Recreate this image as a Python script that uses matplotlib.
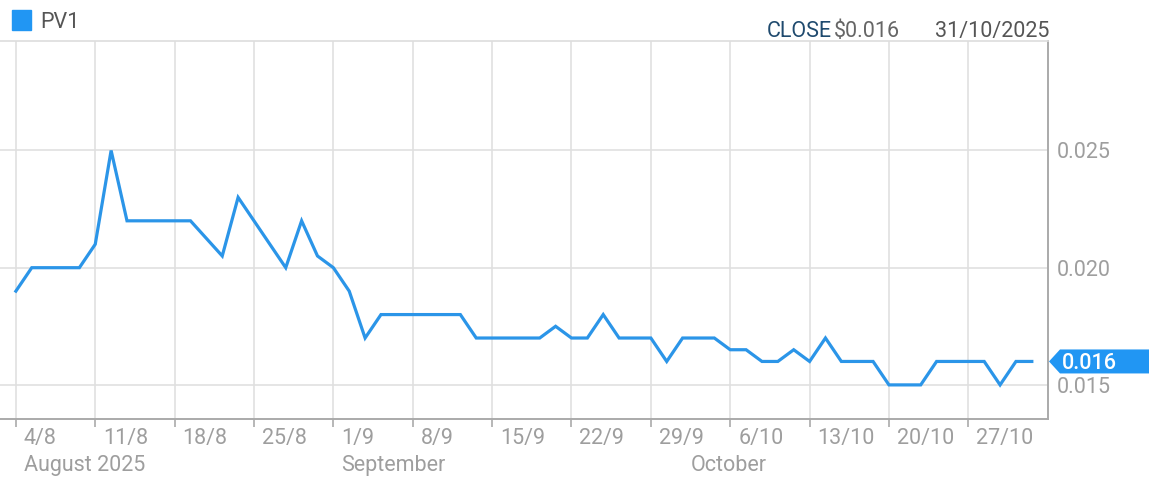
import matplotlib
matplotlib.use("Agg")
import matplotlib.pyplot as plt
from matplotlib.patches import Polygon, Rectangle
import pandas as pd

plt.rcParams['font.family'] = ['Roboto', 'DejaVu Sans']

# ---- data ----
dates = pd.bdate_range("2025-08-04", "2025-10-31")
prices = [0.019, 0.020, 0.020, 0.020, 0.020, 0.021, 0.025, 0.022, 0.022, 0.022,
          0.022, 0.022, 0.02125, 0.0205, 0.023, 0.022, 0.021, 0.020, 0.022, 0.0205,
          0.020, 0.019, 0.017, 0.018, 0.018, 0.018, 0.018, 0.018, 0.018, 0.017,
          0.017, 0.017, 0.017, 0.017, 0.0175, 0.017, 0.017, 0.018, 0.017, 0.017,
          0.017, 0.016, 0.017, 0.017, 0.017, 0.0165, 0.0165, 0.016, 0.016, 0.0165,
          0.016, 0.017, 0.016, 0.016, 0.016, 0.015, 0.015, 0.015, 0.016, 0.016,
          0.016, 0.016, 0.015, 0.016, 0.016]
week_labels = ["4/8", "11/8", "18/8", "25/8", "1/9", "8/9", "15/9", "22/9",
               "29/9", "6/10", "13/10", "20/10", "27/10"]
month_labels = ["August 2025", "September", "October"]
y_ticks = [0.015, 0.020, 0.025]
series_name = "PV1"
close_value = "$0.016"
close_date = "31/10/2025"
last_label = "0.016"

LINE = "#2b95e8"
BADGE = "#2196F3"
GRID = "#e0e0e0"
AXC = "#aaaaaa"
TICKC = "#9e9e9e"
FS = 15.5

W, H = 1149, 484
fig = plt.figure(figsize=(W / 100, H / 100), dpi=100)
ax = fig.add_axes([0, (H - 419) / H, 1047.7 / W, (419 - 40.7) / H])

idx = list(range(len(prices)))
ax.plot(idx, prices, color=LINE, lw=2.3, solid_joinstyle='miter', zorder=3)

ax.set_xlim(-1, 65)
ax.set_ylim(0.013545, 0.029684)

week_pos = list(range(0, len(week_labels) * 5, 5))
ax.set_xticks(week_pos)
ax.set_xticklabels([""] * len(week_pos))
ax.set_yticks(y_ticks)
ax.set_yticklabels([f"{v:.3f}" for v in y_ticks])
ax.yaxis.tick_right()
ax.tick_params(axis='y', length=0, pad=6.5, labelsize=FS, labelcolor=TICKC)
ax.tick_params(axis='x', length=5.8, width=1.2, color=AXC, direction='out')
ax.grid(True, color=GRID, lw=1.2, zorder=0)
ax.set_axisbelow(True)

ax.spines['left'].set_visible(False)
ax.spines['top'].set_color('#dddddd')
ax.spines['top'].set_linewidth(1.2)
ax.spines['right'].set_color(AXC)
ax.spines['right'].set_linewidth(1.4)
ax.spines['bottom'].set_color(AXC)
ax.spines['bottom'].set_linewidth(1.4)

xt = ax.get_xaxis_transform()
for p, lab in zip(week_pos, week_labels):
    ax.annotate(lab, xy=(p, 0), xycoords=xt, xytext=(8, -25),
                textcoords='offset pixels', ha='left', va='baseline',
                fontsize=FS, color=TICKC, annotation_clip=False)

# month labels at first trading day of each month
month_pos = []
seen = set()
for i, d in enumerate(dates):
    if d.month not in seen:
        seen.add(d.month)
        month_pos.append(i)
for p, lab in zip(month_pos, month_labels):
    ax.annotate(lab, xy=(p, 0), xycoords=xt, xytext=(8, -52),
                textcoords='offset pixels', ha='left', va='baseline',
                fontsize=FS, color=TICKC, annotation_clip=False)

# legend
fig.patches.append(Rectangle((12 / W, 1 - 29.7 / H), 19 / W, 19.7 / H,
                             transform=fig.transFigure, color=BADGE))
fig.text(40 / W, 1 - 28.3 / H, series_name, fontsize=FS, color="#555555",
         ha='left', va='baseline')

# close info
fig.text(766.7 / W, 1 - 36.7 / H, "CLOSE", fontsize=FS, color="#1f4a6e",
         ha='left', va='baseline')
fig.text(834 / W, 1 - 36.7 / H, close_value, fontsize=FS, color="#666666",
         ha='left', va='baseline')
fig.text(1049 / W, 1 - 36.7 / H, close_date, fontsize=FS, color="#555555",
         ha='right', va='baseline')

# last value badge
fig.canvas.draw()
yc_pix = ax.transData.transform((0, prices[-1]))[1]
half = 12
pts = [(1049, yc_pix), (1060, yc_pix + half), (W, yc_pix + half),
       (W, yc_pix - half), (1060, yc_pix - half)]
pts = [(x / W, y / H) for x, y in pts]
fig.patches.append(Polygon(pts, closed=True, transform=fig.transFigure,
                           facecolor=BADGE, edgecolor='none'))
fig.text(1061.7 / W, yc_pix / H, last_label, fontsize=FS, color="white",
         fontweight='medium', ha='left', va='center_baseline')

fig.savefig("out.png", dpi=100)
